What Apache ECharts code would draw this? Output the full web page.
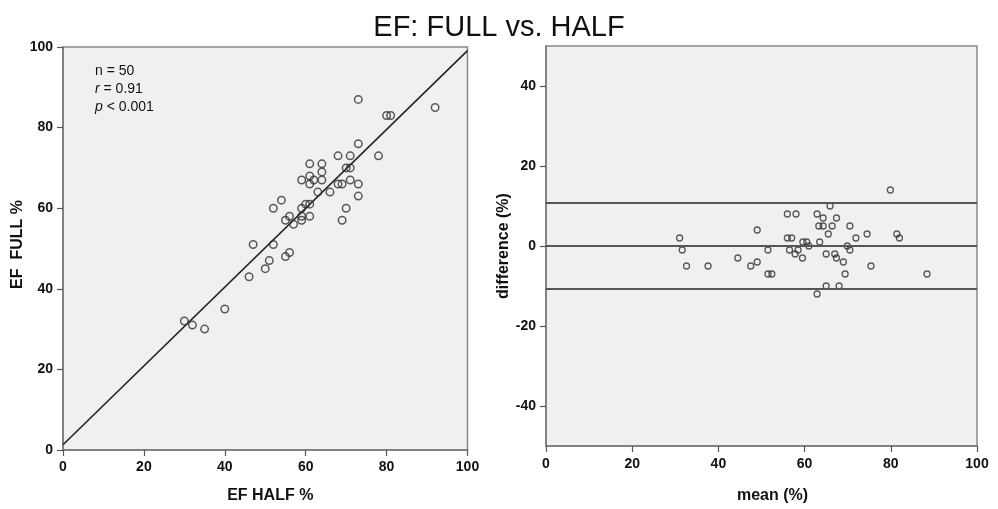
<!DOCTYPE html>
<html>
<head>
<meta charset="utf-8">
<script src="https://cdn.jsdelivr.net/npm/echarts@6/dist/echarts.min.js"></script>
<style>
html,body{margin:0;padding:0;background:#fff;}
#chart{width:998px;height:509px;}
</style>
</head>
<body>
<div id="chart"></div>
<script>
// Left panel: EF HALF (x) vs EF FULL (y)
const efHalf = [73,92,80,81,73,78,68,71,61,64,64,70,71,59,61,62,64,61,68,69,71,73,73,63,66,54,52,60,61,59,70,56,55,59,61,57,59,69,47,52,56,55,51,50,46,40,30,32,35];
const efFull = [87,85,83,83,76,73,73,73,71,71,69,70,70,67,68,67,67,66,66,66,67,66,63,64,64,62,60,61,61,60,60,58,57,58,58,56,57,57,51,51,49,48,47,45,43,35,32,31,30];
// Regression line end points
const regX = [0, 100];
const regY = [1.3, 99.1];
// Right panel: Bland-Altman mean vs difference
const baMean = [79.9,65.9,56,58,62.9,64.3,67.4,63.3,64.3,66.4,70.5,49,65.5,74.5,81.4,82,71.9,31,56,57,59.6,60.5,63.5,61,69.9,31.6,51.5,56.5,58.5,70.5,57.8,65,67,59.5,67.4,44.5,69,49,47.5,32.6,37.6,75.4,69.4,51.5,52.4,65,68,62.9,88.4];
const baDiff = [14,10,8,8,8,7,7,5,5,5,5,4,3,3,3,2,2,2,2,2,1,1,1,0,0,-1,-1,-1,-1,-1,-2,-2,-2,-3,-3,-3,-4,-4,-5,-5,-5,-5,-7,-7,-7,-10,-10,-12,-7];
const baLines = [10.8, 0, -10.8];
// Tick labels
const leftTicks = [0,20,40,60,80,100];
const rightYTicks = [-40,-20,0,20,40];
const rightXTicks = [0,20,40,60,80,100];
// Texts
const titleText = 'EF: FULL vs. HALF';
const statN = '50';
const statR = '0.91';
const statP = '< 0.001';

const FONT = '"Liberation Sans", Arial, sans-serif';
const chart = echarts.init(document.getElementById('chart'), null, {renderer:'canvas'});

function pairs(xs, ys){ return xs.map((x,i)=>[x, ys[i]]); }

const axisCommon = {
  axisLine:{show:true, onZero:false, lineStyle:{color:'#777', width:1.5}},
  axisTick:{show:true, inside:false, length:6, lineStyle:{color:'#555', width:1.2}},
  axisLabel:{color:'#111', fontFamily:FONT, fontWeight:'bold', fontSize:14, margin:10},
  splitLine:{show:false},
  nameTextStyle:{color:'#111', fontFamily:FONT, fontWeight:'bold', fontSize:16},
  nameLocation:'middle'
};

function nameStyle(extra){ return Object.assign({}, axisCommon.nameTextStyle, extra || {}); }

const option = {
  animation:false,
  backgroundColor:'#ffffff',
  title:{
    text:titleText, left:'center', top:8,
    textStyle:{fontFamily:FONT, fontWeight:'normal', fontSize:29, color:'#111'}
  },
  grid:[
    {left:63, top:47, width:404.5, height:407, show:true, backgroundColor:'#f0f0f0', borderColor:'#888', borderWidth:1.5},
    {left:546, top:46, width:431, height:405.5, show:true, backgroundColor:'#f0f0f0', borderColor:'#888', borderWidth:1.5}
  ],
  xAxis:[
    Object.assign({}, axisCommon, {type:'value', gridIndex:0, min:0, max:100, interval:20,
      name:'EF HALF %', nameGap:38, nameTextStyle:nameStyle({padding:[0,0,0,10]}),
      axisLabel:Object.assign({}, axisCommon.axisLabel, {customValues:leftTicks}),
      axisTick:Object.assign({}, axisCommon.axisTick, {customValues:leftTicks})}),
    Object.assign({}, axisCommon, {type:'value', gridIndex:1, min:0, max:100, interval:20,
      name:'mean (%)', nameGap:42, nameTextStyle:nameStyle({padding:[0,0,0,22]}),
      axisLabel:Object.assign({}, axisCommon.axisLabel, {customValues:rightXTicks, margin:11}),
      axisTick:Object.assign({}, axisCommon.axisTick, {customValues:rightXTicks})})
  ],
  yAxis:[
    Object.assign({}, axisCommon, {type:'value', gridIndex:0, min:0, max:100, interval:20,
      name:'EF  FULL %', nameGap:31, nameTextStyle:nameStyle({padding:[0,0,0,8]}),
      axisLabel:Object.assign({}, axisCommon.axisLabel, {customValues:leftTicks}),
      axisTick:Object.assign({}, axisCommon.axisTick, {customValues:leftTicks})}),
    Object.assign({}, axisCommon, {type:'value', gridIndex:1, min:-50, max:50,
      name:'difference (%)', nameGap:32, nameTextStyle:nameStyle(),
      axisLabel:Object.assign({}, axisCommon.axisLabel, {customValues:rightYTicks}),
      axisTick:Object.assign({}, axisCommon.axisTick, {customValues:rightYTicks})})
  ],
  graphic:[
    {type:'text', left:95, top:62, silent:true,
     style:{
       text:'n = ' + statN + '\n{i|r} = ' + statR + '\n{i|p} ' + statP,
       fontFamily:FONT, fontSize:14, lineHeight:18, fill:'#111',
       rich:{i:{fontStyle:'italic', fontFamily:FONT, fontSize:14, lineHeight:18, fill:'#111'}}
     }}
  ],
  series:[
    {type:'line', xAxisIndex:0, yAxisIndex:0, data:pairs(regX, regY), symbol:'none', clip:true,
     lineStyle:{color:'#222', width:1.6}, silent:true, z:3},
    {type:'scatter', xAxisIndex:0, yAxisIndex:0, data:pairs(efHalf, efFull), symbol:'circle', symbolSize:7.5,
     itemStyle:{color:'rgba(0,0,0,0)', borderColor:'#333', borderWidth:1.5}, silent:true, z:4},
    {type:'scatter', xAxisIndex:1, yAxisIndex:1, data:pairs(baMean, baDiff), symbol:'circle', symbolSize:6,
     itemStyle:{color:'rgba(0,0,0,0)', borderColor:'#333', borderWidth:1.3}, silent:true, z:4,
     markLine:{silent:true, symbol:['none','none'], label:{show:false},
       lineStyle:{color:'#555', width:2, type:'solid'},
       data:baLines.map(v=>({yAxis:v}))}}
  ]
};
chart.setOption(option);
</script>
</body>
</html>
